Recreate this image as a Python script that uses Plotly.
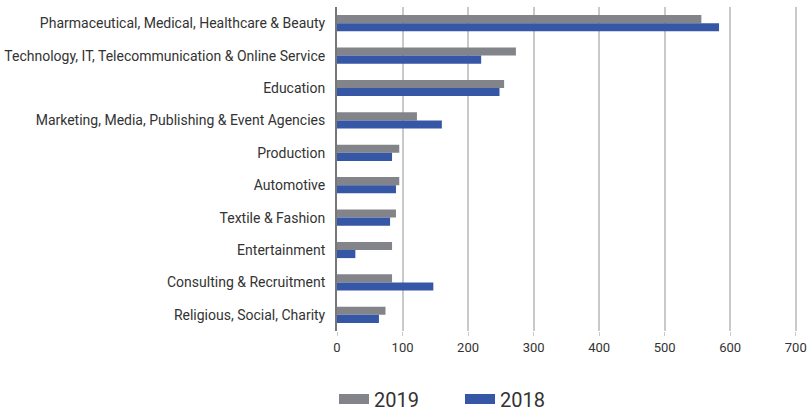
import plotly.graph_objects as go

# Industry categories, top to bottom
categories = [
    "Pharmaceutical, Medical, Healthcare & Beauty",
    "Technology, IT, Telecommunication & Online Service",
    "Education",
    "Marketing, Media, Publishing & Event Agencies",
    "Production",
    "Automotive",
    "Textile & Fashion",
    "Entertainment",
    "Consulting & Recruitment",
    "Religious, Social, Charity",
]

values_2019 = [556, 273, 255, 122, 95, 95, 90, 84, 84, 74]
values_2018 = [583, 220, 248, 160, 84, 90, 81, 28, 147, 64]

x_ticks = [0, 100, 200, 300, 400, 500, 600, 700]

series = [("2019", values_2019, "#838489"), ("2018", values_2018, "#3657a5")]
TEXT = "#333333"

fig = go.Figure()
for name, vals, color in series:
    fig.add_trace(go.Bar(y=categories, x=vals, name=name, orientation="h",
                         marker=dict(color=color, line=dict(width=0)),
                         showlegend=False))
# Legend entries drawn as wide colour blocks
for name, vals, color in series:
    fig.add_trace(go.Scatter(x=[None], y=[None], mode="lines", name=name,
                             line=dict(color=color, width=12), showlegend=True))

fig.update_layout(
    width=808, height=412,
    margin=dict(l=337, r=9, t=7, b=81, autoexpand=False),
    barmode="group",
    bargap=0.5,
    bargroupgap=0,
    plot_bgcolor="white",
    paper_bgcolor="white",
    font=dict(family="Roboto, sans-serif", size=13, color=TEXT),
    legend=dict(orientation="h", xref="container", yref="container",
                x=334 / 808, xanchor="left", y=13 / 412, yanchor="middle",
                font=dict(size=20, color=TEXT),
                entrywidth=81, entrywidthmode="pixels",
                itemwidth=30, traceorder="normal"),
)

fig.update_xaxes(
    range=[0, 705], tickvals=x_ticks, ticktext=[str(v) for v in x_ticks],
    showgrid=True, gridcolor="#c9c9c9", gridwidth=1.5,
    zeroline=False, showline=False,
    ticks="outside", ticklen=4, tickcolor="#c9c9c9",
    tickfont=dict(size=13, color=TEXT),
)
fig.update_yaxes(
    autorange="reversed",
    showgrid=False, zeroline=False,
    showline=True, linecolor="#777777", linewidth=2,
    ticks="", ticksuffix="  ",
    tickfont=dict(size=14, color=TEXT),
)

fig.write_html("out.html")
